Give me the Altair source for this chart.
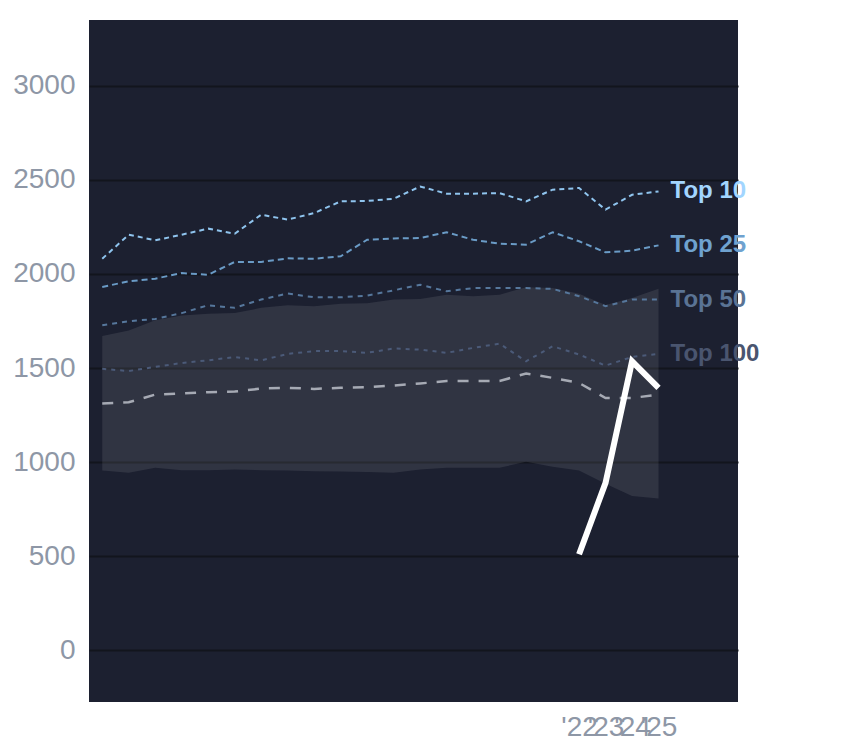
import altair as alt
import pandas as pd

years = list(range(2004, 2026))

top10 = [2081, 2209, 2179, 2209, 2241, 2214, 2315, 2289, 2324, 2386, 2388, 2400, 2465, 2427, 2427, 2430, 2386, 2448, 2457, 2342, 2421, 2439]
top25 = [1931, 1961, 1975, 2005, 1996, 2064, 2064, 2083, 2081, 2094, 2182, 2189, 2191, 2222, 2182, 2161, 2156, 2222, 2174, 2115, 2124, 2152]
top50 = [1727, 1749, 1761, 1792, 1834, 1820, 1864, 1896, 1876, 1876, 1885, 1913, 1943, 1908, 1925, 1925, 1925, 1921, 1882, 1829, 1864, 1864]
top100 = [1496, 1484, 1506, 1527, 1541, 1559, 1541, 1575, 1590, 1590, 1581, 1604, 1598, 1581, 1607, 1630, 1536, 1616, 1572, 1513, 1559, 1575]
median = [1312, 1318, 1359, 1365, 1372, 1375, 1391, 1395, 1389, 1395, 1398, 1407, 1418, 1431, 1431, 1431, 1471, 1448, 1421, 1341, 1341, 1359]
band_high = [1670, 1700, 1754, 1780, 1789, 1792, 1820, 1834, 1829, 1842, 1845, 1864, 1867, 1890, 1882, 1890, 1929, 1925, 1895, 1835, 1872, 1922]
band_low = [956, 944, 970, 957, 957, 961, 957, 956, 952, 950, 947, 944, 961, 970, 970, 970, 1002, 975, 956, 885, 820, 807]

recent_years = [2022, 2023, 2024, 2025]
recent = [510, 890, 1536, 1395]

label_names = ["Top 10", "Top 25", "Top 50", "Top 100"]
label_colors = ["#a2d5ff", "#6fa2cf", "#5a7394", "#4a556f"]
line_colors = ["#8fc4ee", "#6a9bc6", "#56779c", "#4b5a78"]
dashes = [[5, 4], [6, 4], [5, 5], [4, 5]]
series = [top10, top25, top50, top100]

x_tick_values = [2022, 2023, 2024, 2025]
y_tick_values = [0, 500, 1000, 1500, 2000, 2500, 3000]

FONT = "Liberation Sans"
AXIS_GRAY = "#8e97a6"

xscale = alt.Scale(domain=[2003.5, 2028], nice=False, zero=False)
yscale = alt.Scale(domain=[-275, 3350], nice=False, zero=False)

xenc = alt.X(
    "year:Q",
    scale=xscale,
    axis=alt.Axis(
        values=x_tick_values,
        labelExpr="\"'\" + slice(toString(datum.value), 2)",
        labelOverlap=False,
        grid=False,
        ticks=False,
        tickSize=0,
        domain=False,
        labelFontSize=28,
        labelColor=AXIS_GRAY,
        labelFont=FONT,
        labelPadding=11,
        labelBound=False,
        title=None,
    ),
)

yaxis = alt.Axis(
    values=y_tick_values,
    format="d",
    grid=True,
    gridColor="#12151d",
    gridWidth=2,
    ticks=False,
    tickSize=0,
    domain=False,
    labelFontSize=28,
    labelColor=AXIS_GRAY,
    labelFont=FONT,
    labelPadding=14,
    title=None,
)

band_df = pd.DataFrame({"year": years, "low": band_low, "high": band_high})
band = alt.Chart(band_df).mark_area(color="#ffffff", opacity=0.09).encode(
    x=xenc,
    y=alt.Y("low:Q", scale=yscale, axis=yaxis),
    y2="high:Q",
)

med_df = pd.DataFrame({"year": years, "value": median})
med_line = alt.Chart(med_df).mark_line(
    color="#a6aab4", strokeWidth=2.5, strokeDash=[11, 10]
).encode(x="year:Q", y="value:Q")

layers = [band, med_line]
for vals, col, dash in zip(reversed(series), reversed(line_colors), reversed(dashes)):
    d = pd.DataFrame({"year": years, "value": vals})
    layers.append(
        alt.Chart(d).mark_line(color=col, strokeWidth=2, strokeDash=dash).encode(
            x="year:Q", y="value:Q"
        )
    )

recent_df = pd.DataFrame({"year": recent_years, "value": recent})
recent_line = alt.Chart(recent_df).mark_line(
    color="#ffffff", strokeWidth=6, strokeJoin="miter", strokeCap="butt"
).encode(x="year:Q", y="value:Q")
layers.append(recent_line)

label_df = pd.DataFrame(
    {
        "year": [years[-1]] * 4,
        "value": [s[-1] for s in series],
        "label": label_names,
        "color": label_colors,
    }
)
labels = alt.Chart(label_df).mark_text(
    align="left", baseline="middle", dx=12, fontSize=24, fontWeight="bold", font=FONT
).encode(
    x="year:Q",
    y="value:Q",
    text="label:N",
    color=alt.Color("color:N", scale=None),
)
layers.append(labels)

chart = (
    alt.layer(*layers)
    .properties(
        width=649,
        height=682,
        autosize=alt.AutoSizeParams(type="none"),
        padding={"left": 81, "top": 12, "right": 40, "bottom": 40},
        background="#ffffff",
    )
    .configure_view(fill="#1c2030", stroke=None)
)

chart.save("out.html", embed_options={"renderer": "svg", "actions": False})
